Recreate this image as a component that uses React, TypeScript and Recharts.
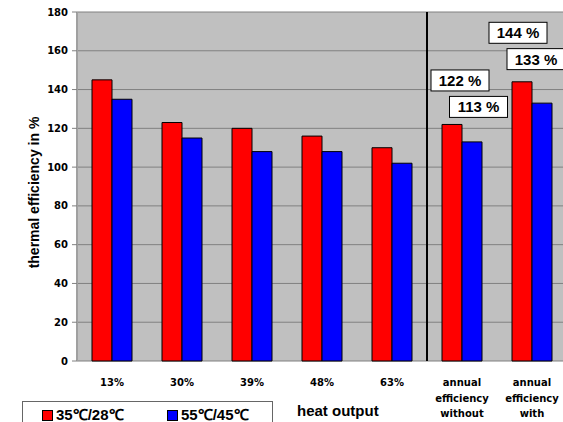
import { Bar, BarChart, CartesianGrid, LabelList, Legend, ReferenceLine, XAxis, YAxis } from "recharts";

const categories = ["13%", "30%", "39%", "48%", "63%", "annual\nefficiency\nwithout", "annual\nefficiency\nwith"];
const lowTemp = [145, 123, 120, 116, 110, 122, 144];
const highTemp = [135, 115, 108, 108, 102, 113, 133];
const yTicks = [0, 20, 40, 60, 80, 100, 120, 140, 160, 180];
const seriesNames = ["35℃/28℃", "55℃/45℃"];
const labelled = [5, 6];

const data = categories.map((c, i) => ({ cat: c, idx: i + 0.5, low: lowTemp[i], high: highTemp[i] }));

const FONT = "'Liberation Sans', Arial, sans-serif";
const TICK_FONT = "'DejaVu Sans', Tahoma, sans-serif";

// hand-placed label boxes, shifted relative to bar top (like the Excel original)
const shifts: Record<string, Record<number, [number, number]>> = {
  low: { 5: [8, -44], 6: [-4, -49] },
  high: { 5: [6.5, -35], 6: [-6, -44] },
};

function boxLabel(key: string) {
  return (p: any) => {
    const { x, y, width, value, index } = p;
    if (!labelled.includes(index)) return null;
    const [dx, dy] = shifts[key][index];
    const cx = Number(x) + Number(width) / 2 + dx;
    const cy = Number(y) + dy;
    return (
      <g>
        <rect x={cx - 29} y={cy - 10.5} width={58} height={21} fill="#fff" stroke="#000" strokeWidth={1} />
        <text x={cx} y={cy + 5.5} textAnchor="middle" fontFamily={FONT} fontWeight="bold" fontSize={15} fill="#000">
          {value} %
        </text>
      </g>
    );
  };
}

function CatTick({ x, y, payload }: any) {
  const lines = String(payload.value).split("\n");
  return (
    <text x={x} y={y} textAnchor="middle" fontFamily={TICK_FONT} fontWeight="bold" fontSize={10} fill="#000">
      {lines.map((l, i) => (
        <tspan key={i} x={x} dy={i === 0 ? 17 : 15.5}>
          {l}
        </tspan>
      ))}
    </text>
  );
}

function YTitle({ viewBox }: any) {
  const cx = 34;
  const cy = viewBox.y + viewBox.height / 2 + 6;
  return (
    <text
      x={cx}
      y={cy}
      transform={`rotate(-90 ${cx} ${cy})`}
      textAnchor="middle"
      dominantBaseline="central"
      fontFamily={FONT}
      fontWeight="bold"
      fontSize={14}
      fill="#000"
    >
      thermal efficiency in %
    </text>
  );
}

function LegendBox() {
  return (
    <div style={{ position: "relative", width: 563, height: 30, fontFamily: FONT }}>
      <div
        style={{
          position: "absolute",
          left: 22,
          top: 0,
          width: 249,
          height: 30,
          border: "1px solid #666",
          background: "#fff",
        }}
      >
        <span style={{ position: "absolute", left: 19, top: 8, width: 9, height: 9, background: "#f00", border: "1px solid #000" }} />
        <span style={{ position: "absolute", left: 33, top: 2, fontSize: 15, fontWeight: "bold" }}>{seriesNames[0]}</span>
        <span style={{ position: "absolute", left: 144, top: 8, width: 9, height: 9, background: "#00f", border: "1px solid #000" }} />
        <span style={{ position: "absolute", left: 158, top: 2, fontSize: 15, fontWeight: "bold" }}>{seriesNames[1]}</span>
      </div>
      <span style={{ position: "absolute", left: 297, top: 1, fontSize: 15, fontWeight: "bold" }}>heat output</span>
    </div>
  );
}

export default function App() {
  return (
    <div style={{ position: "absolute", left: 0, top: 0, width: 563, height: 422, overflow: "hidden", background: "#fff" }}>
      <BarChart
        width={575}
        height={422}
        data={data}
        margin={{ top: 12, right: 8, left: 0, bottom: 0 }}
        barSize={20}
        barGap={0}
      >
        <CartesianGrid vertical={false} stroke="#808080" fill="#c0c0c0" fillOpacity={1} horizontalValues={yTicks} />
        <XAxis
          xAxisId="num"
          type="number"
          dataKey="idx"
          domain={[0, 7]}
          ticks={[0, 1, 2, 3, 4, 5, 6, 7]}
          height={0}
          tick={false}
          tickSize={5}
          axisLine={{ stroke: "#808080" }}
          tickLine={{ stroke: "#808080" }}
          allowDataOverflow
        />
        <XAxis dataKey="cat" height={61} tick={<CatTick />} tickLine={false} axisLine={false} interval={0} />
        <YAxis
          width={77}
          domain={[0, 180]}
          ticks={yTicks}
          tickSize={5}
          tickMargin={4}
          axisLine={{ stroke: "#a0a0a0", strokeWidth: 2 }}
          tickLine={{ stroke: "#808080" }}
          tick={{ fill: "#000", fontFamily: TICK_FONT, fontWeight: "bold", fontSize: 10 }}
          label={<YTitle />}
        />
        <ReferenceLine xAxisId="num" x={5} stroke="#000" strokeWidth={2} />
        <Legend
          layout="horizontal"
          verticalAlign="middle"
          content={<LegendBox />}
          wrapperStyle={{ position: "absolute", left: 0, top: 401, width: 563 }}
        />
        <Bar dataKey="low" name={seriesNames[0]} fill="#ff0000" stroke="#000" strokeWidth={1} isAnimationActive={false}>
          <LabelList dataKey="low" content={boxLabel("low")} />
        </Bar>
        <Bar dataKey="high" name={seriesNames[1]} fill="#0000ff" stroke="#000" strokeWidth={1} isAnimationActive={false}>
          <LabelList dataKey="high" content={boxLabel("high")} />
        </Bar>
      </BarChart>
    </div>
  );
}
